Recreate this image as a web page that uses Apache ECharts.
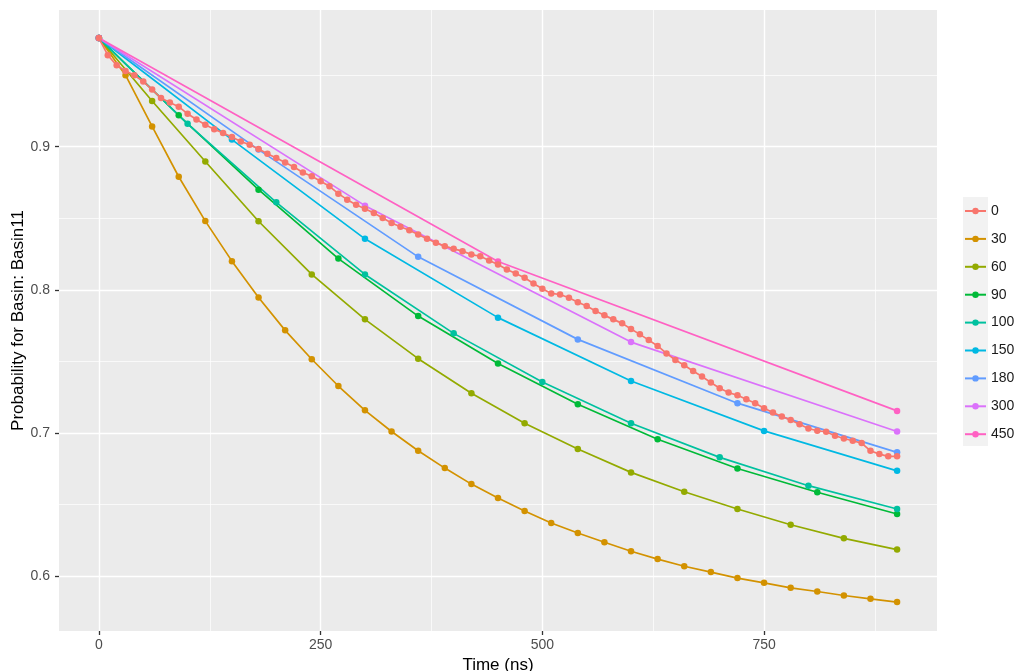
<!DOCTYPE html>
<html>
<head>
<meta charset="utf-8">
<script src="https://cdn.jsdelivr.net/npm/echarts@6/dist/echarts.min.js"></script>
<style>
html,body{margin:0;padding:0;background:#fff}
#chart{width:1014px;height:671px}
</style>
</head>
<body>
<div id="chart"></div>
<script>
// groups (lag, ns) and ggplot hue colours
var groupNames = ['0','30','60','90','100','150','180','300','450'];
var groupColors = ['#F8766D','#D39200','#93AA00','#00BA38','#00C19F','#00B9E3','#619CFF','#DB72FB','#FF61C3'];

// sample times per group
var t0 = [0,10,20,30,40,50,60,70,80,90,100,110,120,130,140,150,160,170,180,190,200,210,220,230,240,250,260,270,280,290,300,310,320,330,340,350,360,370,380,390,400,410,420,430,440,450,460,470,480,490,500,510,520,530,540,550,560,570,580,590,600,610,620,630,640,650,660,670,680,690,700,710,720,730,740,750,760,770,780,790,800,810,820,830,840,850,860,870,880,890,900];
var t30 = [0,30,60,90,120,150,180,210,240,270,300,330,360,390,420,450,480,510,540,570,600,630,660,690,720,750,780,810,840,870,900];
var t60 = [0,60,120,180,240,300,360,420,480,540,600,660,720,780,840,900];
var t90 = [0,90,180,270,360,450,540,630,720,810,900];
var t100 = [0,100,200,300,400,500,600,700,800,900];
var t150 = [0,150,300,450,600,750,900];
var t180 = [0,180,360,540,720,900];
var t300 = [0,300,600,900];
var t450 = [0,450,900];

// probabilities
var p0 = [0.976,0.964,0.957,0.953,0.950,0.9456,0.940,0.934,0.931,0.928,0.923,0.919,0.9154,0.9123,0.9096,0.9068,0.9037,0.9014,0.8984,0.8951,
  0.8921,0.889,0.8858,0.882,0.8793,0.8758,0.8723,0.8672,0.863,0.8595,0.8567,0.8537,0.8502,0.8467,0.844,0.8416,0.8386,0.8356,0.8328,0.8305,
  0.8286,0.827,0.8246,0.8234,0.8204,0.8176,0.8142,0.8114,0.8084,0.8044,0.8007,0.7974,0.7967,0.7944,0.7913,0.7886,0.7851,0.7821,0.7793,0.7765,
  0.7725,0.7688,0.7648,0.7607,0.7555,0.7509,0.7472,0.7432,0.7393,0.7351,0.7311,0.7281,0.7262,0.7234,0.7207,0.7172,0.7142,0.7114,0.709,0.706,
  0.703,0.7014,0.7007,0.6979,0.696,0.6944,0.6928,0.6874,0.6851,0.6835,0.6835];
var p30 = [0.976,0.950,0.9142,0.879,0.848,0.820,0.7946,0.7716,0.7514,0.7327,0.7157,0.7009,0.6874,0.6753,0.6641,0.6544,0.6453,0.6369,0.6299,0.6235,
  0.6172,0.6117,0.6067,0.6026,0.5984,0.5951,0.5916,0.589,0.5862,0.5839,0.5816];
var p60 = [0.976,0.932,0.8897,0.8479,0.8107,0.7793,0.7518,0.7276,0.7067,0.6886,0.6723,0.6588,0.6467,0.6357,0.6262,0.6183];
var p90 = [0.976,0.922,0.870,0.8218,0.7816,0.7484,0.720,0.6955,0.675,0.6584,0.6432];
var p100 = [0.976,0.916,0.8611,0.8107,0.7695,0.7355,0.7067,0.6828,0.663,0.6467];
var p150 = [0.976,0.905,0.8356,0.7805,0.7362,0.7013,0.6734];
var p180 = [0.976,0.898,0.823,0.7653,0.7207,0.6863];
var p300 = [0.976,0.8588,0.7634,0.7009];
var p450 = [0.976,0.8197,0.7153];

// axis breaks
var xTicks = [0,250,500,750];
var xMinor = [125,375,625,875];
var yTicks = [0.6,0.7,0.8,0.9];
var yMinor = [0.65,0.75,0.85,0.95];

var times = [t0,t30,t60,t90,t100,t150,t180,t300,t450];
var probs = [p0,p30,p60,p90,p100,p150,p180,p300,p450];

var seriesList = [];
for (var i = 0; i < groupNames.length; i++) {
    var pts = [];
    for (var j = 0; j < times[i].length; j++) {
        pts.push([times[i][j], probs[i][j]]);
    }
    seriesList.push({
        name: groupNames[i],
        type: 'line',
        data: pts,
        symbol: 'circle',
        symbolSize: 6.5,
        showSymbol: true,
        z: i == 0 ? 3 : 2,
        lineStyle: {width: 1.7, color: groupColors[i]},
        itemStyle: {color: groupColors[i]},
        emphasis: {disabled: true}
    });
}

var font = '"Liberation Sans", Arial, sans-serif';
var myChart = echarts.init(document.getElementById('chart'));
var option = {
    animation: false,
    textStyle: {fontFamily: font},
    color: groupColors,
    grid: {
        left: 59, right: 77, top: 10, bottom: 40,
        containLabel: false, outerBoundsMode: 'none',
        show: true, backgroundColor: '#EBEBEB', borderWidth: 0
    },
    graphic: [{
        type: 'rect', left: 963, top: 197, z: 0,
        shape: {width: 25, height: 249},
        style: {fill: '#F2F2F2'}
    }],
    legend: {
        data: groupNames,
        orient: 'vertical',
        left: 964, top: 204, padding: 0,
        itemWidth: 21, itemHeight: 8, itemGap: 13.9,
        textStyle: {fontSize: 14, color: '#1A1A1A', fontFamily: font}
    },
    xAxis: [{
        type: 'value', min: -45, max: 945,
        name: 'Time (ns)', nameLocation: 'middle', nameGap: 22,
        nameTextStyle: {fontSize: 17, color: '#000', fontFamily: font},
        axisLine: {show: false, onZero: false},
        axisTick: {show: true, inside: false, length: 4, customValues: xTicks, lineStyle: {color: '#333333', width: 1.3}},
        axisLabel: {customValues: xTicks, fontSize: 14, color: '#4D4D4D', margin: 7, fontFamily: font},
        splitLine: {show: true, lineStyle: {color: '#FFFFFF', width: 1.4}}
    }, {
        type: 'value', min: -45, max: 945, position: 'top',
        axisLine: {show: false, onZero: false},
        axisTick: {show: false, customValues: xMinor},
        axisLabel: {show: false},
        splitLine: {show: true, lineStyle: {color: '#FFFFFF', width: 0.7}}
    }],
    yAxis: [{
        type: 'value', min: 0.5614, max: 0.9956,
        name: 'Probability for Basin: Basin11', nameLocation: 'middle', nameGap: 32,
        nameMoveOverlap: false,
        nameTextStyle: {fontSize: 17, color: '#000', fontFamily: font},
        axisLine: {show: false, onZero: false},
        axisTick: {show: true, inside: false, length: 4, customValues: yTicks, lineStyle: {color: '#333333', width: 1.3}},
        axisLabel: {customValues: yTicks, fontSize: 14, color: '#4D4D4D', margin: 9, fontFamily: font},
        splitLine: {show: true, lineStyle: {color: '#FFFFFF', width: 1.4}}
    }, {
        type: 'value', min: 0.5614, max: 0.9956, position: 'right',
        axisLine: {show: false, onZero: false},
        axisTick: {show: false, customValues: yMinor},
        axisLabel: {show: false},
        splitLine: {show: true, lineStyle: {color: '#FFFFFF', width: 0.7}}
    }],
    series: seriesList
};
myChart.setOption(option);
</script>
</body>
</html>
